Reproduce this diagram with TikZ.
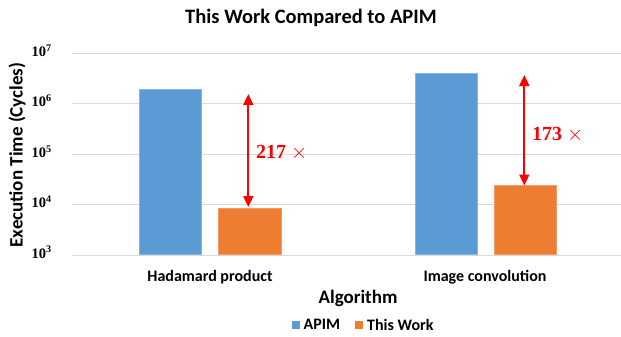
\documentclass[tikz,border=0pt]{standalone}
\usepackage{fontspec}
\setmainfont{Carlito}
\newfontfamily\serifnum{Liberation Serif}
\usetikzlibrary{arrows.meta}
\definecolor{apim}{HTML}{5B9BD5}
\definecolor{work}{HTML}{ED7D31}
\definecolor{gridgray}{HTML}{D9D9D9}
\begin{document}
\begin{tikzpicture}[x=1pt,y=-1pt,
 lab/.style={font=\fontsize{16}{16}\selectfont\bfseries, inner sep=0pt},
 big/.style={font=\fontsize{19}{19}\selectfont\bfseries, inner sep=0pt},
 tick/.style={font=\serifnum\fontsize{14.5}{14.5}\selectfont\bfseries, inner sep=0pt, anchor=base east},
 bar/.style={draw=#1!75!white, fill=#1, line width=0.6pt, inner sep=0pt, anchor=south west, minimum width=62pt},
 ratio/.style={font=\serifnum\fontsize{20}{20}\selectfont\bfseries, text=red, inner sep=0pt, anchor=west},
 dbl/.style={red, line width=1.8pt, {Triangle[length=11pt,width=10pt]}-{Triangle[length=11pt,width=10pt]}},
 legsq/.style={minimum size=8pt, inner sep=0pt, fill=#1},
 gridline/.style={gridgray, line width=1pt}
]
\useasboundingbox (0,0) rectangle (621,337);
\fill[white] (0,0) rectangle (621,337);
% title
\node[font=\fontsize{20.5}{20.5}\selectfont\bfseries, inner sep=0pt] (title) at (311,18) {This Work Compared to APIM};
% grid and ticks
\foreach \y/\e [count=\i] in {53.5/7,103.9/6,154.3/5,204.7/4,255.1/3} {
  \coordinate (gl\i) at (72,\y);
  \coordinate (gr\i) at (621,\y);
  \draw[gridline] (gl\i) -- (gr\i);
  \node[tick] (t\i) at (52,\y+3) {10\textsuperscript{\e}};
}
% y label
\node[big, rotate=90] (ylab) at (17,155) {Execution Time (Cycles)};
% bars
\node[bar=apim, minimum height=165pt] (b1) at (139.3,255) {};
\node[bar=work, minimum height=46.7pt, minimum width=63pt] (o1) at (217.7,255) {};
\node[bar=apim, minimum height=181.7pt] (b2) at (415.3,255) {};
\node[bar=work, minimum height=69.3pt] (o2) at (494.3,255) {};
% arrows
\coordinate (a1s) at (248.3,94);
\coordinate (a1e) at (248.3,207);
\draw[dbl] (a1s) -- (a1e);
\node[ratio] (r1) at (256,152.5) {217 {\mdseries\fontsize{22}{22}\selectfont$\times$}};
\coordinate (a2s) at (524.3,75);
\coordinate (a2e) at (524.3,185.5);
\draw[dbl] (a2s) -- (a2e);
\node[ratio] (r2) at (532,134.5) {173 {\mdseries\fontsize{22}{22}\selectfont$\times$}};
% category labels
\node[lab] (c1) at (210,277) {Hadamard product};
\node[lab] (c2) at (485,277) {Image convolution};
\node[big] (xlab) at (358,298) {Algorithm};
% legend
\node[legsq=apim] (l1) at (295.5,325) {};
\node[lab, anchor=west] (l1t) at (303.5,324.5) {APIM};
\node[legsq=work] (l2) at (359.2,325) {};
\node[lab, anchor=west] (l2t) at (367,324.5) {This Work};
\end{tikzpicture}
\end{document}
